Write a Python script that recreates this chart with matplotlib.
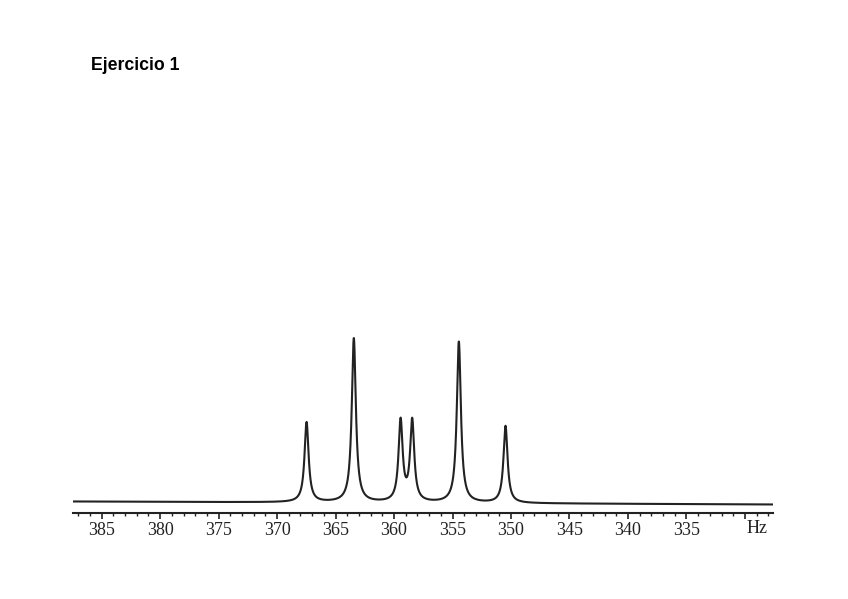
import numpy as np
import matplotlib.pyplot as plt
from matplotlib.ticker import MultipleLocator

# peak positions (Hz) and heights
peak_hz = [367.48, 363.44, 359.44, 358.45, 354.46, 350.47]
peak_height = [80, 164, 81, 81, 161, 77]
half_width = 0.21  # Hz

major_ticks = [385, 380, 375, 370, 365, 360, 355, 350, 345, 340, 335, 330]
tick_labels = ['385', '380', '375', '370', '365', '360', '355', '350', '345', '340', '335', '']

x = np.linspace(387.5, 327.5, 6000)
y = np.zeros_like(x)
for c, h in zip(peak_hz, peak_height):
    y += h * half_width**2 / ((x - c)**2 + half_width**2)
y += np.interp(x, [327.5, 387.5], [-2.5, 0.5])  # slight baseline drift

fig = plt.figure(figsize=(8.48, 5.99), dpi=100)
ax = fig.add_axes([73 / 848, (599 - 512.7) / 599, 700 / 848, 192.7 / 599])
ax.plot(x, y, color='#222222', lw=1.5)
ax.set_xlim(387.45, 327.6)
ax.set_ylim(-10.7, 182)

for s in ['top', 'right', 'left']:
    ax.spines[s].set_visible(False)
ax.spines['bottom'].set_linewidth(1.5)
ax.spines['bottom'].set_color('#222222')
ax.set_yticks([])
ax.set_xticks(major_ticks)
ax.set_xticklabels(tick_labels, family='Liberation Serif', fontsize=13, color='#222222')
ax.xaxis.set_minor_locator(MultipleLocator(1))
ax.tick_params(axis='x', which='major', length=4.5, width=1.2, pad=2, color='#222222')
ax.tick_params(axis='x', which='minor', length=2, width=1, color='#222222')
ax.annotate('Hz', xy=(329.0, 0), xycoords=('data', 'axes fraction'), xytext=(0, -5.3),
            textcoords='offset points', ha='center', va='top',
            family='Liberation Serif', fontsize=13, color='#222222')

fig.text(91 / 848, 1 - 65 / 599, 'Ejercicio 1', ha='left', va='center',
         family='Liberation Sans', weight='bold', fontsize=12.7)

fig.savefig('out.png', dpi=100)
